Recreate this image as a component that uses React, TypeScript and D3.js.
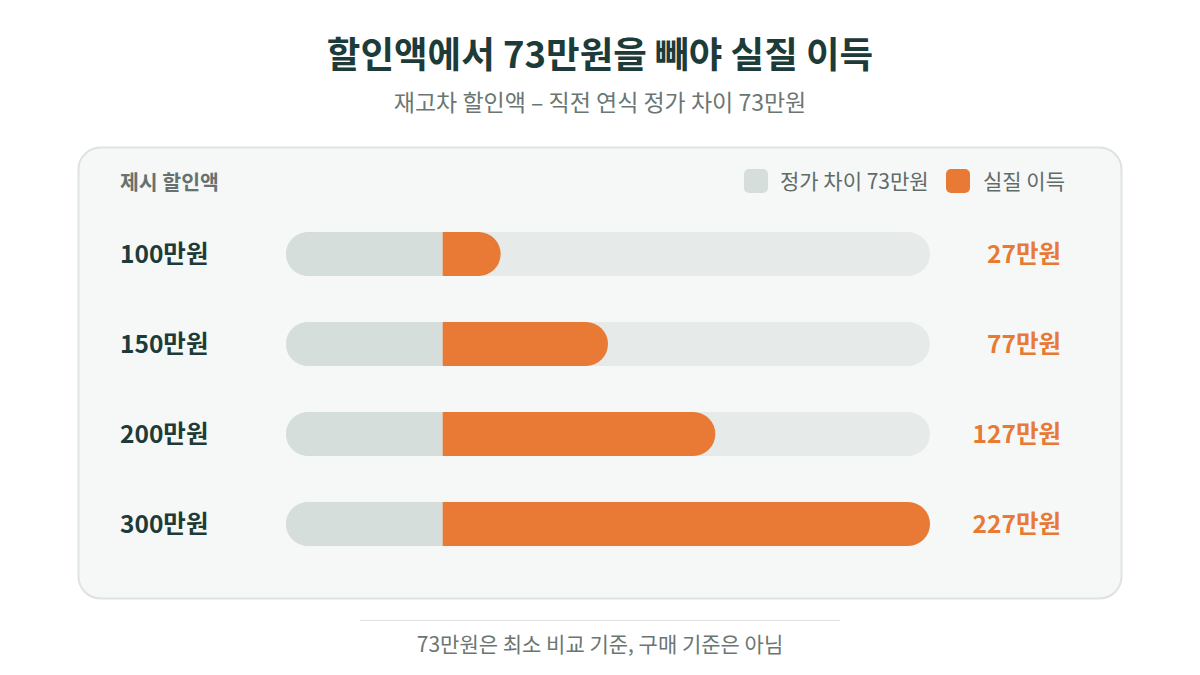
import React from "react";
import * as d3 from "d3";

const categories = ["100만원", "150만원", "200만원", "300만원"];
const discounts = [100, 150, 200, 300];
const priceGap = [73, 73, 73, 73];
const netGain = [27, 77, 127, 227];
const valueLabels = ["27만원", "77만원", "127만원", "227만원"];
const legendLabels = ["정가 차이 73만원", "실질 이득"];

const FONT = "'Noto Sans CJK KR', 'Noto Sans', sans-serif";
const DARK = "#1d3b39";
const GREY_TEXT = "#6b7673";
const ORANGE = "#e87a35";
const GAP_GREY = "#d5dedb";
const TRACK = "#e6eae8";

export default function App() {
  const W = 1200, H = 675;
  const x = d3.scaleLinear().domain([0, 300]).range([286, 930]);
  const y = d3.scaleBand<string>().domain(categories).range([209, 569]).paddingInner(0.5111).paddingOuter(0.2556);
  const bh = 44;
  const r = bh / 2;

  const leftRound = (x0: number, x1: number, y0: number) =>
    `M${x0 + r},${y0} H${x1} V${y0 + bh} H${x0 + r} A${r},${r} 0 0 1 ${x0 + r},${y0} Z`;
  const rightRound = (x0: number, x1: number, y0: number) =>
    `M${x0},${y0} H${x1 - r} A${r},${r} 0 0 1 ${x1 - r},${y0 + bh} H${x0} Z`;

  return (
    <svg width={W} height={H} style={{ position: "absolute", left: 0, top: 0, background: "#fff" }} fontFamily={FONT}>
      <rect x={0} y={0} width={W} height={H} fill="#ffffff" />
      <text x={600} y={68} textAnchor="middle" fontSize={36.5} fontWeight={700} fill={DARK}>
        할인액에서 73만원을 빼야 실질 이득
      </text>
      <text x={600} y={111} textAnchor="middle" fontSize={23} fill={GREY_TEXT}>
        재고차 할인액 – 직전 연식 정가 차이 73만원
      </text>

      <rect x={78.5} y={147.5} width={1043} height={451} rx={22} fill="#f6f8f7" stroke="#dde3e1" strokeWidth={2} />

      <text x={120} y={190} fontSize={20.5} fontWeight={700} fill="#66726f">제시 할인액</text>

      <g fontSize={21} fill="#5f6b68">
        <rect x={744} y={169} width={24} height={24} rx={5} fill={GAP_GREY} />
        <text x={780} y={189}>{legendLabels[0]}</text>
        <rect x={946} y={169} width={24} height={24} rx={5} fill={ORANGE} />
        <text x={983} y={189}>{legendLabels[1]}</text>
      </g>

      {categories.map((c, i) => {
        const yc = (y(c) as number) + y.bandwidth() / 2;
        const y0 = yc - bh / 2;
        return (
          <g key={c}>
            <text x={120} y={yc + 9} fontSize={24.5} fontWeight={700} fill={DARK}>{c}</text>
            <rect x={x(0)} y={y0} width={x(300) - x(0)} height={bh} rx={r} fill={TRACK} />
            <path d={leftRound(x(0), x(priceGap[i]), y0)} fill={GAP_GREY} />
            <path d={rightRound(x(priceGap[i]), x(priceGap[i] + netGain[i]), y0)} fill={ORANGE} />
            <text x={1061} y={yc + 9} textAnchor="end" fontSize={24.5} fontWeight={700} fill={ORANGE}>
              {valueLabels[i]}
            </text>
          </g>
        );
      })}

      <line x1={360} x2={840} y1={620.5} y2={620.5} stroke="#dde3e1" strokeWidth={1} />
      <text x={600} y={652} textAnchor="middle" fontSize={21} fill={GREY_TEXT}>
        73만원은 최소 비교 기준, 구매 기준은 아님
      </text>
    </svg>
  );
}
